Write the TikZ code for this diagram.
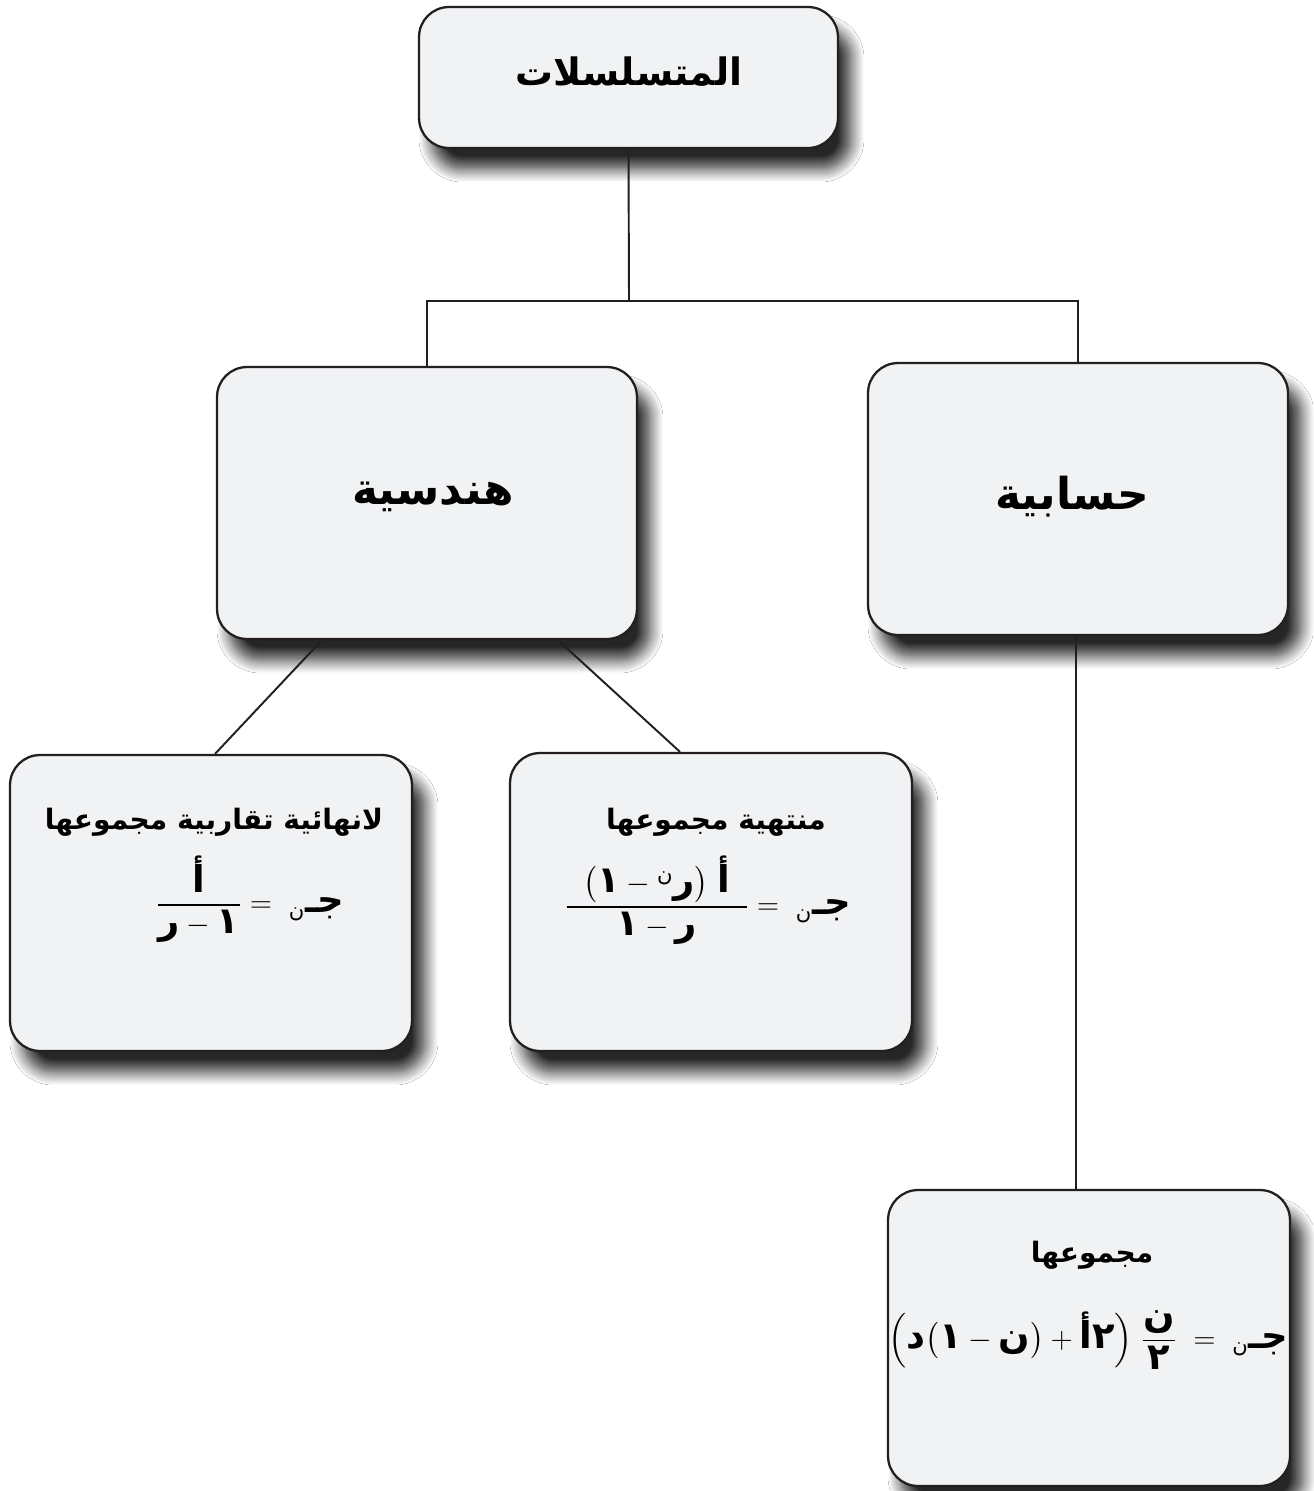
\documentclass[tikz,border=0pt]{standalone}
\usepackage{amsmath}
\usepackage{fontspec}
\usetikzlibrary{shadows.blur,calc}
\TeXXeTstate=1
\newfontfamily\arfont[Script=Arabic]{DejaVu Sans}
\newcommand{\AR}[1]{{\arfont\bfseries\beginR#1\endR}}
\newcommand{\A}[1]{\text{\fontsize{21}{24}\selectfont\arfont\bfseries\beginR#1\endR}}
\newcommand{\Al}[1]{\text{\fontsize{12}{14}\selectfont\arfont\beginR#1\endR}}
\definecolor{boxfill}{HTML}{F1F2F4}
\definecolor{boxline}{HTML}{231F20}
\begin{document}
\begin{tikzpicture}[x=0.02cm,y=-0.02cm,
  box/.style={draw=boxline, line width=1.3pt, fill=boxfill, rounded corners=0.6cm,
    blur shadow={shadow xshift=0.26cm, shadow yshift=-0.42cm, shadow blur radius=0.26cm, shadow blur steps=12, shadow opacity=85}},
  conn/.style={draw=boxline, line width=1.1pt},
  bigt/.style={font=\fontsize{25}{30}\selectfont, inner sep=0pt},
  midt/.style={font=\fontsize{21.5}{26}\selectfont, inner sep=0pt},
  smt/.style={font=\fontsize{16}{20}\selectfont, inner sep=0pt},
  fm/.style={font=\fontsize{19}{22}\selectfont, inner sep=0pt}]
\useasboundingbox (0,0) rectangle (1313,1491);
\fill[white] (0,0) rectangle (1313,1491);
% boxes
\node[box, minimum width=8.38cm, minimum height=2.82cm] (top) at (628.5,77.5) {};
\node[box, minimum width=8.4cm, minimum height=5.44cm] (hend) at (427,503) {};
\node[box, minimum width=8.4cm, minimum height=5.44cm] (hisab) at (1078,499) {};
\node[box, minimum width=8.04cm, minimum height=5.92cm] (inf) at (211,903) {};
\node[box, minimum width=8.04cm, minimum height=5.96cm] (fin) at (711,902) {};
\node[box, minimum width=8.04cm, minimum height=5.92cm] (sum) at (1089,1338) {};
% titles
\node[midt] (ttop) at (629,72) {\AR{المتسلسلات}};
\node[bigt] (thend) at (433,497) {\AR{هندسية}};
\node[bigt] (thisab) at (1072,497) {\AR{حسابية}};
\node[smt] (tinf) at (214,822) {\AR{لانهائية تقاربية مجموعها}};
\node[smt] (tfin) at (716,822) {\AR{منتهية مجموعها}};
\node[smt] (tsum) at (1092,1255) {\AR{مجموعها}};
% formulas
\node[fm] (finf) at (250,899) {$\dfrac{\A{أ}}{\makebox[1.64cm]{$\A{ر}-\A{١}$}}=\;{}_{\Al{ن}}\A{جـ}$};
\node[fm] (ffin) at (708,900) {$\dfrac{\makebox[3.6cm]{$\bigl(\A{١}-{}^{\Al{ن}}\A{ر}\bigr)\;\A{أ}$}}{\A{١}-\A{ر}}=\;{}_{\Al{ن}}\A{جـ}$};
\node[fm] (fsum) at (1088,1340) {$\Bigl(\A{د}\bigl(\A{١}-\A{ن}\bigr)+\A{أ}\A{٢}\Bigr)\;\dfrac{\A{ن}}{\A{٢}}\;=\;{}_{\Al{ن}}\A{جـ}$};
% connectors
\coordinate (j) at (629,301);
\draw[conn] (top.south) -- (j);
\draw[conn] (hend.north) |- (j) -| (hisab.north);
\draw[conn] ([xshift=-2.1cm]hend.south) -- ([xshift=0.08cm]inf.north);
\draw[conn] ([xshift=2.62cm]hend.south) -- ([xshift=-0.62cm]fin.north);
\draw[conn] ([xshift=-0.04cm]hisab.south) -- ([xshift=-0.04cm]hisab.south |- sum.north);
\end{tikzpicture}
\end{document}
